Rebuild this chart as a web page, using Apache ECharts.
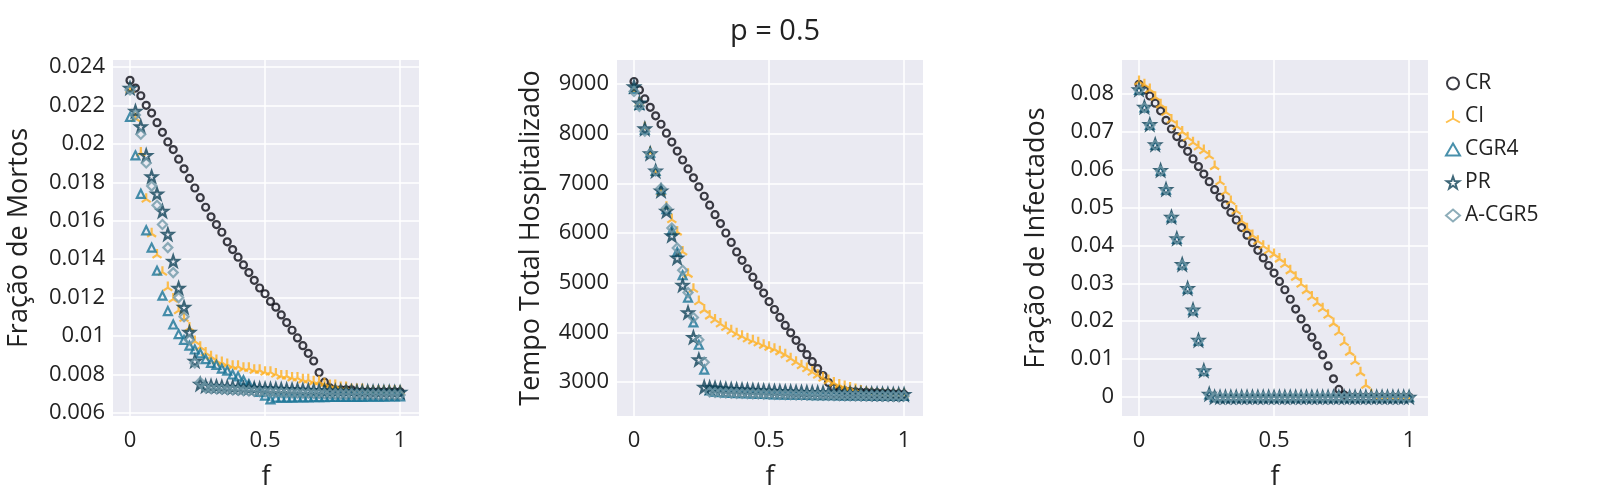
<!DOCTYPE html>
<html>
<head>
<meta charset="utf-8">
<script src="https://cdn.jsdelivr.net/npm/echarts@6/dist/echarts.min.js"></script>
<style>html,body{margin:0;padding:0;background:#fff}#chart{width:1600px;height:500px}</style>
</head>
<body>
<div id="chart"></div>
<script>
const fs = [0,0.02,0.04,0.06,0.08,0.1,0.12,0.14,0.16,0.18,0.2,0.22,0.24,0.26,0.28,0.3,0.32,0.34,0.36,0.38,0.4,0.42,0.44,0.46,0.48,0.5,0.52,0.54,0.56,0.58,0.6,0.62,0.64,0.66,0.68,0.7,0.72,0.74,0.76,0.78,0.8,0.82,0.84,0.86,0.88,0.9,0.92,0.94,0.96,0.98,1];
const seriesNames = ["CR", "CI", "CGR4", "PR", "A-CGR5"];
const xTicks = [0, 0.5, 1];
const yTicks1 = [0.006,0.008,0.01,0.012,0.014,0.016,0.018,0.02,0.022,0.024];
const yTicks2 = [3000,4000,5000,6000,7000,8000,9000];
const yTicks3 = [0,0.01,0.02,0.03,0.04,0.05,0.06,0.07,0.08];

// Fração de Mortos
const mortosCR = [0.0233,0.0229,0.0225,0.0220,0.0216,0.0211,0.0206,0.0201,0.0197,0.0192,0.0187,0.0182,0.0177,0.0172,0.0167,0.0162,0.0158,0.0154,0.0149,0.0145,0.0141,0.0137,0.0133,0.0129,0.0125,0.0122,0.0118,0.0115,0.0111,0.0107,0.0103,0.0099,0.0095,0.0091,0.0087,0.0081,0.0076,0.0073,0.0072,0.0072,0.0072,0.0072,0.0071,0.0071,0.0071,0.0071,0.0071,0.0071,0.0071,0.0071,0.0071];
const mortosCI = [0.0229,0.0214,0.0196,0.0172,0.0154,0.0143,0.0134,0.0126,0.0120,0.0114,0.0110,0.0105,0.0098,0.0095,0.0092,0.0090,0.0088,0.0087,0.0086,0.0085,0.0085,0.0084,0.0084,0.0083,0.0083,0.0082,0.0082,0.0081,0.0080,0.0080,0.0079,0.0079,0.0078,0.0078,0.0077,0.0077,0.0076,0.0075,0.0075,0.0074,0.0074,0.0073,0.0073,0.0073,0.0072,0.0072,0.0072,0.0072,0.0072,0.0072,0.0072];
const mortosCGR4 = [0.0214,0.0194,0.0174,0.0155,0.0146,0.0134,0.0121,0.0113,0.0106,0.0101,0.0098,0.0095,0.0093,0.0091,0.0088,0.0086,0.0085,0.0083,0.0082,0.0080,0.0079,0.0077,0.0075,0.0073,0.0071,0.0069,0.0067,0.0068,0.0068,0.00680,0.00680,0.00681,0.00681,0.00681,0.00682,0.00682,0.00682,0.00683,0.00683,0.00683,0.00684,0.00684,0.00684,0.00684,0.00685,0.00685,0.00685,0.00685,0.00686,0.00686,0.00686];
const mortosPR = [0.0229,0.0217,0.0209,0.0194,0.0183,0.0174,0.0165,0.0153,0.0139,0.0125,0.0115,0.0102,0.0087,0.0075,0.0074,0.00740,0.00738,0.00736,0.00735,0.00733,0.00732,0.00730,0.00729,0.00728,0.00727,0.00726,0.00725,0.00724,0.00723,0.00722,0.00721,0.00720,0.00719,0.00718,0.00717,0.00716,0.00715,0.00714,0.00714,0.00713,0.00713,0.00712,0.00712,0.00711,0.00711,0.00710,0.00710,0.00709,0.00709,0.00708,0.00708];
const mortosACGR5 = [0.0228,0.0215,0.0205,0.0190,0.0178,0.0168,0.0158,0.0146,0.0133,0.0120,0.0110,0.0098,0.0086,0.0076,0.0073,0.00728,0.00726,0.00724,0.00722,0.00720,0.00718,0.00716,0.00714,0.00712,0.00710,0.00709,0.00708,0.00707,0.00706,0.00705,0.00704,0.00703,0.00702,0.00702,0.00701,0.00701,0.00700,0.00700,0.00699,0.00699,0.00698,0.00698,0.00697,0.00697,0.00696,0.00696,0.00695,0.00695,0.00694,0.00694,0.00693];

// Tempo Total Hospitalizado
const tempoCR = [9050,8880,8700,8530,8360,8190,8010,7830,7650,7470,7290,7110,6930,6740,6560,6370,6190,6000,5810,5620,5450,5280,5110,4950,4790,4620,4460,4300,4140,3990,3840,3690,3550,3410,3270,3130,2990,2880,2840,2820,2810,2800,2790,2790,2780,2780,2770,2770,2760,2760,2750];
const tempoCI = [8900,8650,8150,7650,7250,6850,6550,6300,6050,5650,5200,4900,4650,4480,4360,4280,4200,4130,4060,4000,3950,3900,3860,3820,3770,3730,3690,3640,3580,3500,3430,3360,3300,3230,3170,3110,3060,3010,2970,2940,2910,2880,2850,2820,2800,2790,2790,2780,2780,2780,2780];
const tempoCGR4 = [8900,8580,8080,7620,7250,6880,6480,6050,5620,5150,4700,4200,3750,3250,2830,2800,2794,2788,2783,2778,2774,2770,2766,2762,2759,2756,2753,2750,2748,2746,2744,2742,2740,2738,2737,2736,2735,2734,2733,2732,2731,2730,2729,2728,2727,2726,2725,2724,2723,2722,2721];
const tempoPR = [8950,8620,8100,7600,7250,6850,6440,5950,5500,4950,4400,3900,3450,2900,2890,2880,2870,2860,2855,2850,2845,2840,2835,2830,2825,2820,2815,2810,2806,2802,2798,2795,2792,2789,2786,2783,2780,2778,2776,2774,2772,2770,2768,2766,2764,2762,2760,2758,2756,2754,2752];
const tempoACGR5 = [8850,8550,8050,7600,7250,6900,6500,6100,5700,5250,4800,4300,3850,3400,2800,2790,2785,2780,2776,2772,2768,2765,2762,2759,2756,2753,2750,2748,2746,2744,2742,2740,2738,2736,2734,2733,2732,2731,2730,2729,2728,2727,2726,2725,2724,2723,2722,2721,2720,2720,2720];

// Fração de Infectados
const infectCR = [0.0825,0.0810,0.0794,0.0775,0.0755,0.0730,0.0707,0.0687,0.0668,0.0648,0.0628,0.0608,0.0588,0.0568,0.0547,0.0527,0.0507,0.0487,0.0467,0.0447,0.0427,0.0407,0.0387,0.0367,0.0347,0.0327,0.0305,0.0283,0.0258,0.0232,0.0206,0.0181,0.0158,0.0135,0.0111,0.0082,0.0048,0.0020,0.0005,0,0,0,0,0,0,0,0,0,0,0,0];
const infectCI = [0.0836,0.0828,0.0815,0.0795,0.0775,0.0755,0.0735,0.0718,0.0703,0.0688,0.0675,0.0664,0.0654,0.0640,0.0612,0.0572,0.0545,0.0520,0.0495,0.0468,0.0448,0.0430,0.0415,0.0402,0.0390,0.0380,0.0368,0.0354,0.0337,0.0320,0.0302,0.0285,0.0268,0.0252,0.0237,0.0220,0.0198,0.0175,0.0148,0.0122,0.0098,0.0068,0.0035,0.0010,0,0,0,0,0,0,0];
const infectCGR4 = [0.0810,0.0764,0.0718,0.0665,0.0597,0.0547,0.0474,0.0417,0.0349,0.0286,0.0229,0.0149,0.0069,0.0007,0,0,0,0,0,0,0,0,0,0,0,0,0,0,0,0,0,0,0,0,0,0,0,0,0,0,0,0,0,0,0,0,0,0,0,0,0];
const infectPR = [0.0811,0.0765,0.0719,0.0666,0.0598,0.0548,0.0475,0.0418,0.0350,0.0287,0.0230,0.0150,0.0070,0.0008,0,0,0,0,0,0,0,0,0,0,0,0,0,0,0,0,0,0,0,0,0,0,0,0,0,0,0,0,0,0,0,0,0,0,0,0,0];
const infectACGR5 = [0.0810,0.0763,0.0717,0.0664,0.0596,0.0546,0.0473,0.0416,0.0348,0.0285,0.0228,0.0148,0.0068,0.0006,0,0,0,0,0,0,0,0,0,0,0,0,0,0,0,0,0,0,0,0,0,0,0,0,0,0,0,0,0,0,0,0,0,0,0,0,0];

const panels = [
  { name: "Fração de Mortos", data: [mortosCR, mortosCI, mortosCGR4, mortosPR, mortosACGR5], ticks: yTicks1, min: 0.00584, max: 0.02436, left: 113, nameGap: 80 },
  { name: "Tempo Total Hospitalizado", data: [tempoCR, tempoCI, tempoCGR4, tempoPR, tempoACGR5], ticks: yTicks2, min: 2316, max: 9483, left: 617, nameGap: 72 },
  { name: "Fração de Infectados", data: [infectCR, infectCI, infectCGR4, infectPR, infectACGR5], ticks: yTicks3, min: -0.005, max: 0.0889, left: 1122, nameGap: 72 },
];

const textColor = "#222222";
const styles = [
  { symbol: "circle", color: "#0b0b14", size: 7 },
  { symbol: "path://M10,10L10,0M10,10L1.3,15M10,10L18.7,15", color: "#ffb020", size: 9 },
  { symbol: "triangle", color: "#1a7496", size: 8 },
  { symbol: "path://M10,0L12.35,6.76L19.51,6.91L13.8,11.24L15.88,18.09L10,14L4.12,18.09L6.2,11.24L0.49,6.91L7.65,6.76Z", color: "#0f4258", size: 11 },
  { symbol: "diamond", color: "#7098a8", size: 9 },
];

function fmt(v) {
  return String(+v.toFixed(4));
}

const grid = panels.map((p) => ({ left: p.left, top: 60, width: 306, height: 356, backgroundColor: "#EAEAF2", show: true, borderWidth: 0 }));

const xAxis = panels.map((p, i) => ({
  type: "value",
  gridIndex: i,
  min: -0.063,
  max: 1.07,
  name: "f",
  nameLocation: "middle",
  nameGap: 48,
  nameTextStyle: { fontSize: 27, color: textColor, fontFamily: "Open Sans" },
  axisLine: { show: false },
  axisTick: { show: false, customValues: xTicks },
  axisLabel: { customValues: xTicks, formatter: fmt, fontSize: 22, color: textColor, fontFamily: "Open Sans", margin: 14 },
  splitLine: { show: true, lineStyle: { color: "#ffffff", width: 1.5 } },
}));

const yAxis = panels.map((p, i) => ({
  type: "value",
  gridIndex: i,
  min: p.min,
  max: p.max,
  name: p.name,
  nameLocation: "middle",
  nameGap: p.nameGap,
  nameTextStyle: { fontSize: 27, color: textColor, fontFamily: "Open Sans" },
  axisLine: { show: false },
  axisTick: { show: false, customValues: p.ticks },
  axisLabel: { customValues: p.ticks, formatter: fmt, fontSize: 22, color: textColor, fontFamily: "Open Sans", margin: 8 },
  splitLine: { show: true, lineStyle: { color: "#ffffff", width: 1.5 } },
}));

const series = [];
panels.forEach((p, i) => {
  p.data.forEach((vals, k) => {
    const st = styles[k];
    series.push({
      name: seriesNames[k],
      type: "scatter",
      xAxisIndex: i,
      yAxisIndex: i,
      symbol: st.symbol,
      symbolSize: st.size,
      itemStyle: { color: "rgba(0,0,0,0)", borderColor: st.color, borderWidth: 2.2 },
      data: fs.map((f, j) => [f, vals[j]]),
      z: 2 + k,
    });
  });
});

const chart = echarts.init(document.getElementById("chart"));
chart.setOption({
  animation: false,
  title: { text: "p = 0.5", left: 770, top: 12, textAlign: "center", textStyle: { fontSize: 29, fontWeight: "normal", color: textColor, fontFamily: "Open Sans" } },
  legend: {
    data: seriesNames,
    orient: "vertical",
    left: 1440,
    top: 68,
    itemGap: 12,
    itemWidth: 14,
    itemHeight: 12,
    textStyle: { fontSize: 21, color: textColor, fontFamily: "Open Sans" },
  },
  grid,
  xAxis,
  yAxis,
  series,
});
</script>
</body>
</html>
